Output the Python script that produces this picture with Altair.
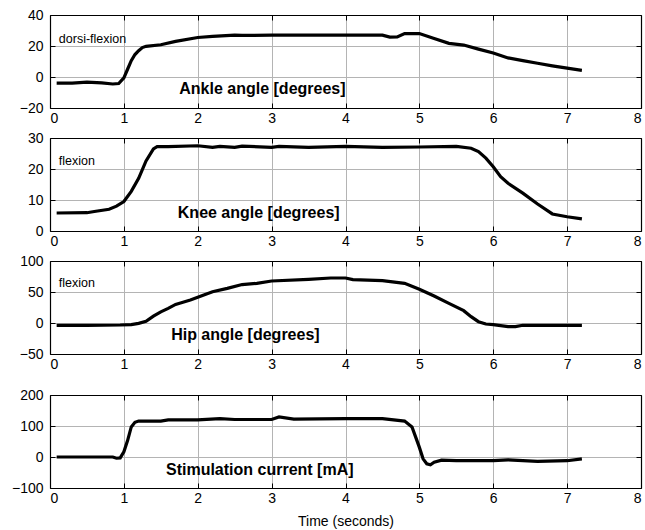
import altair as alt
import pandas as pd

FONT = "Liberation Sans"

# ---- data ----
ankle_t = [0.09, 0.3, 0.5, 0.7, 0.85, 0.93, 1.0, 1.05, 1.1, 1.15, 1.2, 1.25, 1.3, 1.5, 1.7, 2.0, 2.2, 2.5, 2.6,
           3.0, 3.5, 4.0, 4.5, 4.6, 4.7, 4.8, 5.0, 5.2, 5.4, 5.6, 5.8, 6.0, 6.2, 6.4, 6.6, 6.8, 7.0, 7.2]
ankle_v = [-4, -4, -3.3, -3.8, -4.5, -4.2, -0.5, 5, 10.5, 14.5, 17, 19, 19.8, 20.8, 23, 25.5, 26.2, 27, 26.8,
           27, 27, 27, 27, 25.7, 25.8, 28, 28, 24.8, 21.7, 20.6, 18, 15.5, 12.3, 10.6, 8.9, 7.2, 5.7, 4.3]

knee_t = [0.09, 0.5, 0.6, 0.8, 0.9, 1.0, 1.1, 1.2, 1.3, 1.4, 1.45, 1.6, 2.0, 2.2, 2.3, 2.5, 2.6, 3.0, 3.1, 3.5,
          4.0, 4.5, 5.0, 5.5, 5.7, 5.8, 5.9, 6.0, 6.1, 6.2, 6.4, 6.6, 6.8, 7.0, 7.2]
knee_v = [5.8, 5.9, 6.3, 7, 8, 9.5, 12.8, 17, 22.6, 26.5, 27.2, 27.2, 27.5, 27, 27.3, 27, 27.4, 27, 27.3, 27,
          27.3, 27, 27.1, 27.3, 26.7, 25.6, 23.5, 20.7, 17.5, 15.4, 12.2, 8.7, 5.5, 4.6, 3.9]

hip_t = [0.09, 0.5, 0.95, 1.1, 1.2, 1.3, 1.4, 1.5, 1.6, 1.7, 1.8, 1.9, 2.0, 2.2, 2.4, 2.6, 2.8, 3.0, 3.5, 3.8,
         4.0, 4.1, 4.5, 4.8, 5.0, 5.2, 5.4, 5.6, 5.7, 5.8, 5.9, 6.0, 6.2, 6.3, 6.4, 7.2]
hip_v = [-3.7, -3.7, -3.2, -2.5, -0.5, 2.7, 11, 18, 23.6, 30, 33.4, 37, 41.4, 50.5, 55.9, 62, 64, 67.7, 70.5, 72.6,
         72.6, 69.9, 68.3, 64, 54.4, 43.5, 31.7, 19.9, 10.2, 2.1, -1.6, -2.7, -5.9, -5.9, -3.7, -3.7]

stim_t = [0.09, 0.85, 0.9, 0.95, 1.0, 1.05, 1.1, 1.15, 1.2, 1.5, 1.6, 2.0, 2.3, 2.5, 3.0, 3.1, 3.3, 4.0, 4.5,
          4.8, 4.9, 4.95, 5.0, 5.05, 5.1, 5.15, 5.2, 5.3, 5.5, 6.0, 6.2, 6.6, 7.0, 7.2]
stim_v = [0, 0, -4, -3, 17, 53, 97, 112, 116, 116, 120, 120, 124, 121, 121, 129, 122, 124, 124,
          116, 97, 64, 31, -6, -22, -25, -17, -10, -12, -12, -9, -14, -12, -6]

x_ticks = [0, 1, 2, 3, 4, 5, 6, 7, 8]
ankle_ticks = [-20, 0, 20, 40]
knee_ticks = [0, 10, 20, 30]
hip_ticks = [-50, 0, 50, 100]
stim_ticks = [-100, 0, 100, 200]

titles = ["Ankle angle [degrees]", "Knee angle [degrees]", "Hip angle [degrees]", "Stimulation current [mA]"]
title_pos = [(1.75, -7.9), (1.73, 5.9), (1.64, -19.4), (1.57, -41)]
subs = ["dorsi-flexion", "flexion", "flexion", ""]
sub_pos = [(0.12, 24.3), (0.12, 22.6), (0.12, 65), (0.12, 0)]
x_title = "Time (seconds)"

W, H = 591, 93
GRID = "#b4b4b4"


def panel(t, v, ydom, yticks, title, tpos, sub, spos, xtitle=None):
    df = pd.DataFrame({"t": t, "v": v})
    xs = alt.Scale(domain=[0, 8], nice=False, zero=False)
    ys = alt.Scale(domain=ydom, nice=False, zero=False)
    base = alt.Chart(df)
    xax = dict(orient="bottom", values=x_ticks, grid=False, ticks=False, domain=True,
               domainColor="black", domainWidth=1.2,
               labelFontSize=14, labelFont=FONT, labelColor="black", labelPadding=3)
    if xtitle:
        xax.update(title=xtitle, titleFontSize=14, titleFont=FONT, titleFontWeight="normal",
                   titleColor="black", titlePadding=9)
    else:
        xax.update(title=None)
    # grid layer (interior lines only so the black frame stays visible)
    grid = base.mark_line(opacity=0).encode(
        x=alt.X("t:Q", scale=xs, axis=alt.Axis(orient="bottom", values=x_ticks[1:-1], labels=False,
                                                ticks=False, domain=False, grid=True, gridColor=GRID,
                                                gridOpacity=1, title=None)),
        y=alt.Y("v:Q", scale=ys, axis=alt.Axis(orient="left", values=yticks[1:-1], labels=False,
                                                ticks=False, domain=False, grid=True, gridColor=GRID,
                                                gridOpacity=1, title=None)),
    )
    line = base.mark_line(color="black", strokeWidth=3.2, strokeCap="butt").encode(
        x=alt.X("t:Q", scale=xs, axis=alt.Axis(**xax)),
        y=alt.Y("v:Q", scale=ys, axis=alt.Axis(orient="left", values=yticks, grid=False, ticks=False,
                                                domain=True, domainColor="black", domainWidth=1.2,
                                                labelFontSize=14, labelFont=FONT,
                                                labelColor="black", labelPadding=7, title=None)),
    )
    frame = base.mark_line(opacity=0).encode(
        x=alt.X("t:Q", scale=xs, axis=alt.Axis(orient="top", labels=False, ticks=False, grid=False,
                                                domain=True, domainColor="black", domainWidth=1.2,
                                                title=None)),
        y=alt.Y("v:Q", scale=ys, axis=alt.Axis(orient="right", labels=False, ticks=False, grid=False,
                                                domain=True, domainColor="black", domainWidth=1.2,
                                                title=None)),
    )
    m1 = base.mark_line(opacity=0).encode(
        x=alt.X("t:Q", scale=xs, axis=alt.Axis(orient="top", values=x_ticks, labels=False, grid=False,
                                                domain=False, tickSize=5, offset=-5, tickColor="black",
                                                title=None)),
        y=alt.Y("v:Q", scale=ys, axis=alt.Axis(orient="right", values=yticks, labels=False, grid=False,
                                                domain=False, tickSize=5, offset=-5, tickColor="black",
                                                title=None)),
    )
    m2 = base.mark_line(opacity=0).encode(
        x=alt.X("t:Q", scale=xs, axis=alt.Axis(orient="bottom", values=x_ticks, labels=False, grid=False,
                                                domain=False, tickSize=5, offset=-5, tickColor="black",
                                                title=None)),
        y=alt.Y("v:Q", scale=ys, axis=alt.Axis(orient="left", values=yticks, labels=False, grid=False,
                                                domain=False, tickSize=5, offset=-5, tickColor="black",
                                                title=None)),
    )
    tdf = pd.DataFrame({"t": [tpos[0]], "v": [tpos[1]], "s": [title]})
    ttl = alt.Chart(tdf).mark_text(align="left", baseline="middle", fontSize=16, fontWeight="bold",
                                   font=FONT, color="black").encode(
        x=alt.X("t:Q", scale=xs, axis=None), y=alt.Y("v:Q", scale=ys, axis=None), text="s:N")
    layers = [grid, line, frame, m1, m2, ttl]
    if sub:
        sdf = pd.DataFrame({"t": [spos[0]], "v": [spos[1]], "s": [sub]})
        layers.append(alt.Chart(sdf).mark_text(align="left", baseline="middle", fontSize=12.5,
                                               font=FONT, color="black").encode(
            x=alt.X("t:Q", scale=xs, axis=None), y=alt.Y("v:Q", scale=ys, axis=None), text="s:N"))
    return alt.layer(*layers).resolve_axis(x="independent", y="independent").properties(width=W, height=H)


p1 = panel(ankle_t, ankle_v, [-20, 40], ankle_ticks, titles[0], title_pos[0], subs[0], sub_pos[0])
p2 = panel(knee_t, knee_v, [0, 30], knee_ticks, titles[1], title_pos[1], subs[1], sub_pos[1])
p3 = panel(hip_t, hip_v, [-50, 100], hip_ticks, titles[2], title_pos[2], subs[2], sub_pos[2])
p4 = panel(stim_t, stim_v, [-100, 200], stim_ticks, titles[3], title_pos[3], subs[3], sub_pos[3], x_title)
p4 = p4.properties(title=alt.TitleParams(" ", fontSize=11, offset=0))

chart = alt.vconcat(p1, p2, p3, p4, spacing=4).properties(
    padding={"left": 10, "top": 7, "right": 2, "bottom": 2}
).configure_view(stroke="black", strokeWidth=1.2).configure(background="white")

chart.save("out.html", embed_options={"renderer": "svg", "actions": False})
